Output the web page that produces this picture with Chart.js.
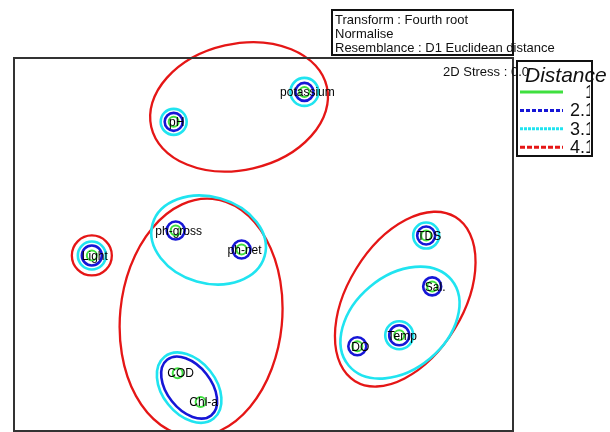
<!DOCTYPE html>
<html>
<head>
<meta charset="utf-8">
<script src="https://cdn.jsdelivr.net/npm/chart.js@4.4.0/dist/chart.umd.min.js"></script>
<style>
  html, body { margin: 0; padding: 0; background: #fff; }
  canvas { display: block; }
</style>
</head>
<body>
<canvas id="mds" width="610" height="432"></canvas>
<script>
// MDS ordination of the variables
const variables = ['pH', 'potassium', 'Light', 'ph-gross', 'ph-net', 'COD', 'Chl-a', 'TDS', 'Sal.', 'Temp', 'DO'];
const mdsX = [-0.90, 0.41, -1.72, -0.88, -0.22, -0.86, -0.63, 1.63, 1.69, 1.36, 0.94];
const mdsY = [1.23, 1.53, -0.11, 0.14, -0.05, -1.29, -1.58, 0.09, -0.42, -0.91, -1.02];

// cluster groups overlaid at each distance level
const distanceLevels = ['1', '2.1', '3.1', '4.1'];
const groupsAt2 = [['pH'], ['potassium'], ['Light'], ['ph-gross'], ['ph-net'], ['COD', 'Chl-a'], ['TDS'], ['Sal.'], ['Temp'], ['DO']];
const groupsAt3 = [['pH'], ['potassium'], ['Light'], ['ph-gross', 'ph-net'], ['COD', 'Chl-a'], ['TDS'], ['Temp'], ['Sal.', 'Temp', 'DO']];
const groupsAt4 = [['pH', 'potassium'], ['Light'], ['ph-gross', 'ph-net', 'COD', 'Chl-a'], ['TDS', 'Sal.', 'Temp', 'DO']];

const infoLines = ['Transform : Fourth root', 'Normalise', 'Resemblance : D1 Euclidean distance'];
const stressLabel = '2D Stress : 0.01';

// ring padding (px) and minor/major ratio for each group
const padAt2 = [9, 9, 10, 9, 9, 17, 9, 9, 10, 9];
const padAt3 = [13, 14, 14, 24, 21, 13, 14, 19];
const padAt4 = [23, 20, 35, 31];
const ratioAt3 = [1, 1, 1, 0.74, 0.68, 1, 1, 0.7];
const ratioAt4 = [0.7, 1, 0.68, 0.6];

const levelColours = ['#3fe03f', '#1616d6', '#20e4f0', '#e51616'];
const levelWidths = [2, 2.6, 2.6, 2.3];
const legendDash = [[], [4, 2], [3, 1], [5, 2]];

function groupPixels(chart, names) {
  const xs = chart.scales.x, ys = chart.scales.y;
  return names.map(n => {
    const i = variables.indexOf(n);
    return { x: xs.getPixelForValue(mdsX[i]), y: ys.getPixelForValue(mdsY[i]) };
  });
}

// ellipse along the principal axis of the members, padded out
function fitEllipse(pts, pad, ratio) {
  if (pts.length === 1) return { cx: pts[0].x, cy: pts[0].y, a: pad, b: pad, rot: 0 };
  const mx = pts.reduce((s, p) => s + p.x, 0) / pts.length;
  const my = pts.reduce((s, p) => s + p.y, 0) / pts.length;
  let sxx = 0, syy = 0, sxy = 0;
  pts.forEach(p => {
    const dx = p.x - mx, dy = p.y - my;
    sxx += dx * dx; syy += dy * dy; sxy += dx * dy;
  });
  const rot = 0.5 * Math.atan2(2 * sxy, sxx - syy);
  const ux = Math.cos(rot), uy = Math.sin(rot);
  let umin = Infinity, umax = -Infinity, vmin = Infinity, vmax = -Infinity;
  pts.forEach(p => {
    const dx = p.x - mx, dy = p.y - my;
    const u = dx * ux + dy * uy, v = -dx * uy + dy * ux;
    umin = Math.min(umin, u); umax = Math.max(umax, u);
    vmin = Math.min(vmin, v); vmax = Math.max(vmax, v);
  });
  const cu = (umin + umax) / 2, cv = (vmin + vmax) / 2;
  const a = (umax - umin) / 2 + pad;
  const b = Math.max((vmax - vmin) / 2 + pad, ratio * a);
  return { cx: mx + cu * ux - cv * uy, cy: my + cu * uy + cv * ux, a, b, rot };
}

const clusterRings = {
  id: 'clusterRings',
  beforeDatasetsDraw(chart) {
    const ctx = chart.ctx;
    const levels = [
      [groupsAt4, padAt4, ratioAt4, 3],
      [groupsAt3, padAt3, ratioAt3, 2],
      [groupsAt2, padAt2, null, 1]
    ];
    ctx.save();
    levels.forEach(([groups, pads, ratios, lv]) => {
      ctx.strokeStyle = levelColours[lv];
      ctx.lineWidth = levelWidths[lv];
      groups.forEach((g, k) => {
        const e = fitEllipse(groupPixels(chart, g), pads[k], ratios ? ratios[k] : 0.62);
        ctx.beginPath();
        ctx.ellipse(e.cx, e.cy, e.a, e.b, e.rot, 0, Math.PI * 2);
        ctx.stroke();
      });
    });
    ctx.restore();
  },
  afterDatasetsDraw(chart) {
    const ctx = chart.ctx;
    const xs = chart.scales.x, ys = chart.scales.y;
    ctx.save();
    ctx.font = '12px "Liberation Sans", Arial, sans-serif';
    ctx.fillStyle = '#000';
    ctx.textAlign = 'center';
    ctx.textBaseline = 'middle';
    variables.forEach((v, i) => {
      ctx.fillText(v, xs.getPixelForValue(mdsX[i]) + 3, ys.getPixelForValue(mdsY[i]) + 1);
    });
    ctx.restore();
  },
  afterDraw(chart) {
    const ctx = chart.ctx;
    const area = chart.chartArea;
    ctx.save();
    // plot frame
    ctx.strokeStyle = '#333';
    ctx.lineWidth = 2;
    ctx.strokeRect(area.left, area.top, area.right - area.left, area.bottom - area.top);

    // transform / resemblance note
    ctx.strokeStyle = '#111';
    ctx.strokeRect(332, 10, 181, 45);
    ctx.fillStyle = '#111';
    ctx.font = '13px "Liberation Sans", Arial, sans-serif';
    ctx.textBaseline = 'middle';
    infoLines.forEach((t, i) => ctx.fillText(t, 335, 20 + i * 14));

    ctx.fillText(stressLabel, 443, 72);

    // distance legend; its title hides the tail of the stress value
    ctx.fillStyle = '#fff';
    ctx.fillRect(528, 63, 30, 22);
    ctx.strokeStyle = '#111';
    ctx.lineWidth = 2;
    ctx.strokeRect(517, 61, 75, 95);
    ctx.font = 'italic 21px "Liberation Sans", Arial, sans-serif';
    ctx.textBaseline = 'alphabetic';
    ctx.fillStyle = '#111';
    ctx.fillText('Distance', 525, 82);

    distanceLevels.forEach((lab, i) => {
      const y = 92 + i * 18.4;
      ctx.strokeStyle = levelColours[i];
      ctx.lineWidth = 3;
      ctx.setLineDash(legendDash[i]);
      ctx.beginPath();
      ctx.moveTo(520, y);
      ctx.lineTo(563, y);
      ctx.stroke();
      ctx.setLineDash([]);
      ctx.save();
      ctx.beginPath();
      ctx.rect(517, 62, 73, 93);
      ctx.clip();
      ctx.font = '18px "Liberation Sans", Arial, sans-serif';
      ctx.textAlign = 'right';
      ctx.textBaseline = 'middle';
      ctx.fillStyle = '#111';
      ctx.fillText(lab, 595, y + 1);
      ctx.restore();
    });
    ctx.restore();
  }
};

new Chart(document.getElementById('mds'), {
  type: 'scatter',
  data: {
    datasets: [{
      data: variables.map((v, i) => ({ x: mdsX[i], y: mdsY[i] })),
      pointRadius: 5,
      pointBorderWidth: levelWidths[0],
      pointBorderColor: levelColours[0],
      pointBackgroundColor: 'rgba(0,0,0,0)',
      clip: false
    }]
  },
  options: {
    responsive: false,
    animation: false,
    layout: { autoPadding: false, padding: { left: 14, top: 58, right: 97, bottom: 1 } },
    scales: {
      x: { type: 'linear', min: -2.5, max: 2.5, display: false },
      y: { type: 'linear', min: -1.87, max: 1.87, display: false }
    },
    plugins: { legend: { display: false }, tooltip: { enabled: false } }
  },
  plugins: [clusterRings]
});
</script>
</body>
</html>
